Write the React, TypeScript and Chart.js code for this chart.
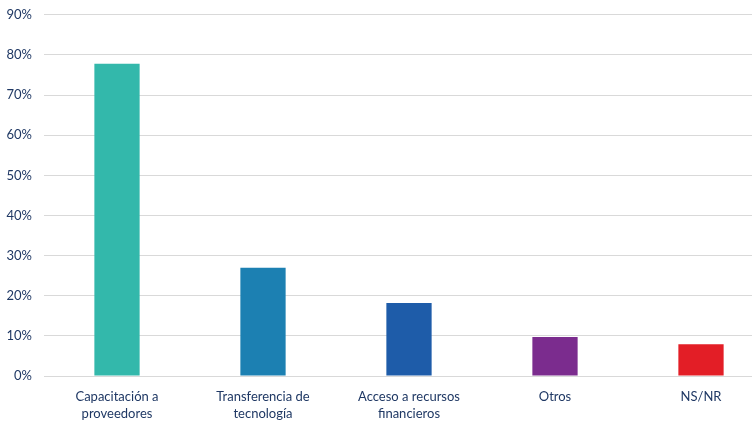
import React, { useEffect, useRef } from "react";
import { Chart, registerables } from "chart.js";

Chart.register(...registerables);

const categories: string[][] = [
  ["Capacitación a", "proveedores"],
  ["Transferencia de", "tecnología"],
  ["Acceso a recursos", "financieros"],
  ["Otros"],
  ["NS/NR"],
];
const values: number[] = [77.8, 27, 18.2, 9.7, 7.9];
const barColors: string[] = ["#33B8AB", "#1C80B2", "#1E5CA9", "#7B2C8E", "#E31E26"];
const yMax = 90;
const yStep = 10;

export default function App() {
  const ref = useRef<HTMLCanvasElement | null>(null);
  useEffect(() => {
    document.body.style.overflow = "hidden";
    const ctx = ref.current!;
    const textColor = "#1F3864";
    const font = { family: "Lato, 'Open Sans', sans-serif", size: 13, lineHeight: 1.3 };
    const chart = new Chart(ctx, {
      type: "bar",
      data: {
        labels: categories,
        datasets: [
          {
            data: values,
            backgroundColor: barColors,
            borderWidth: 0,
            barPercentage: 0.31,
            categoryPercentage: 1,
          },
        ],
      },
      options: {
        animation: false,
        responsive: false,
        maintainAspectRatio: false,
        layout: { padding: { top: 9, right: 0, bottom: 0, left: 0 } },
        plugins: { legend: { display: false }, tooltip: { enabled: false } },
        scales: {
          x: {
            grid: { display: false },
            border: { display: false },
            ticks: { color: textColor, font, padding: 4, maxRotation: 0, autoSkip: false },
            afterFit: (s: any) => {
              s.height = 45;
            },
          },
          y: {
            min: 0,
            max: yMax,
            grid: { color: "#D9D9D9", lineWidth: 1, drawTicks: false },
            border: { display: false },
            ticks: {
              stepSize: yStep,
              color: textColor,
              font: { family: "Lato, 'Open Sans', sans-serif", size: 13 },
              padding: 12,
              callback: (v: any) => v + "%",
            },
            afterFit: (s: any) => {
              s.width = 44;
            },
          },
        },
      },
    });
    return () => chart.destroy();
  }, []);
  return (
    <div style={{ position: "fixed", left: 0, top: -5, width: 774, height: 426 }}>
      <canvas ref={ref} width={774} height={426} style={{ display: "block" }} />
    </div>
  );
}
